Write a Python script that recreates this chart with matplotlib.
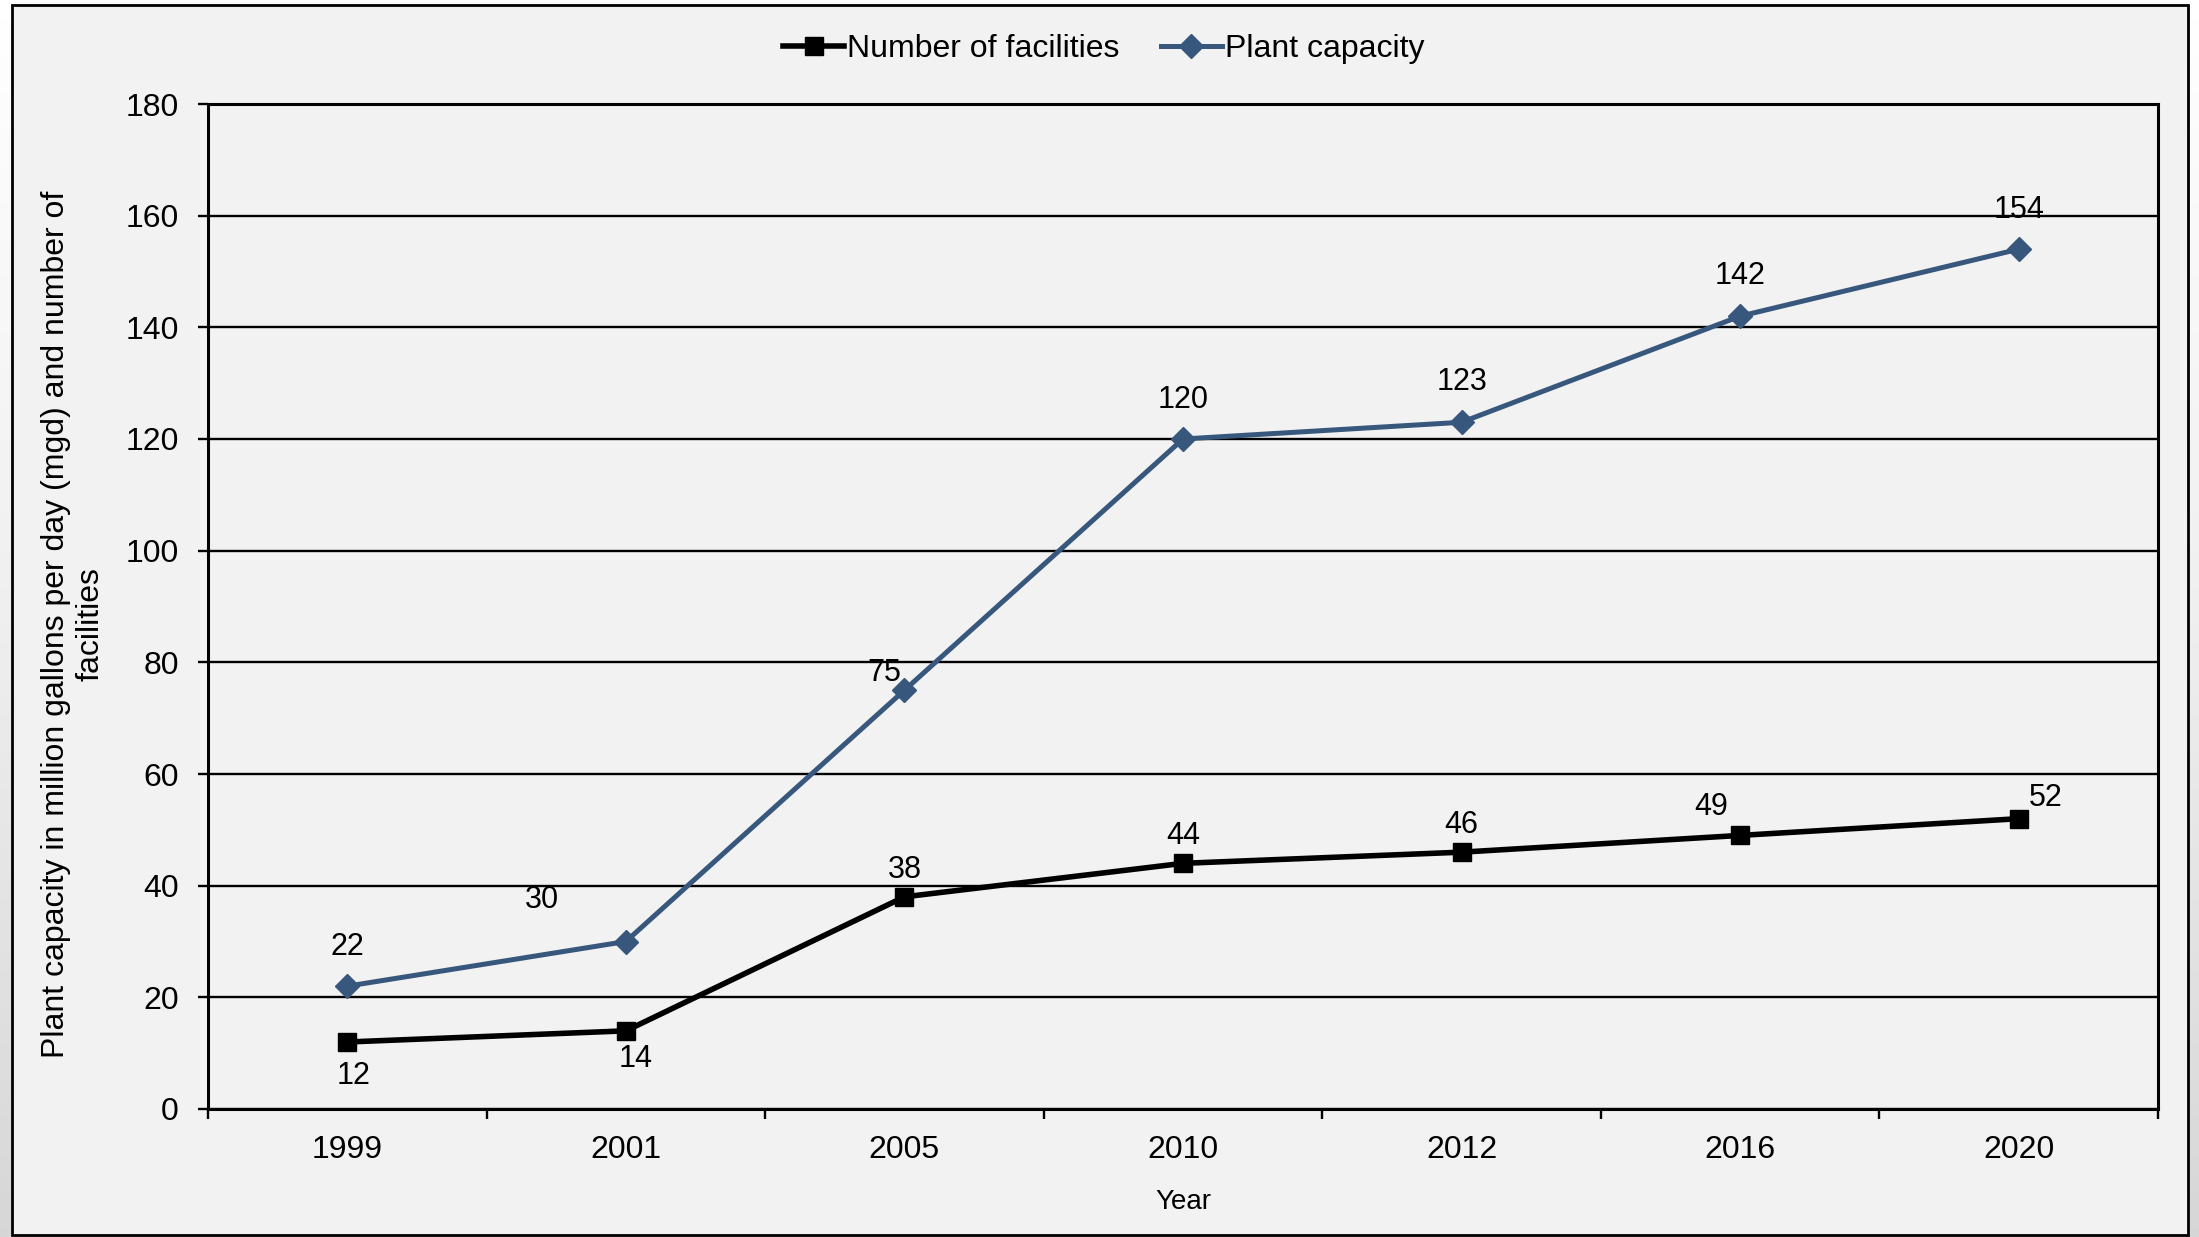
import numpy as np
import matplotlib
matplotlib.use("Agg")
import matplotlib.pyplot as plt
from matplotlib.patches import Rectangle

plt.rcParams['font.family'] = ['Liberation Sans', 'DejaVu Sans']

years = ['1999', '2001', '2005', '2010', '2012', '2016', '2020']
facilities = [12, 14, 38, 44, 46, 49, 52]
capacity = [22, 30, 75, 120, 123, 142, 154]

# label offsets in pixels (dx, dy)
fac_off = [(6, -34), (10, -28), (0, 27), (0, 27), (0, 27), (-29, 28), (27, 21)]
cap_off = [(0, 39), (-84, 41), (-20, 17), (0, 39), (0, 40), (0, 40), (0, 39)]

blue = '#38577c'
bg = '#f2f2f2'

fig = plt.figure(figsize=(21.99, 12.37), dpi=100)

# grey gradient behind the frame
gax = fig.add_axes([0, 0, 1, 1], zorder=-10)
grad = np.linspace(1.0, 0.0, 256).reshape(-1, 1)
gax.imshow(grad, aspect='auto', cmap='Greys_r', vmin=-2.8, vmax=1.0,
           extent=[0, 1, 0, 1])
gax.axis('off')

fig.patches.append(Rectangle((12 / 2199, 1 - 1235 / 1237), (2188 - 12) / 2199,
                             (1235 - 5) / 1237, transform=fig.transFigure,
                             facecolor=bg, edgecolor='black', lw=2, zorder=-5))

ax = fig.add_axes([208 / 2199, 1 - 1109 / 1237, (2158 - 208) / 2199, (1109 - 104) / 1237])
ax.set_facecolor(bg)
x = np.arange(len(years))

ax.plot(x, facilities, color='black', lw=4.0, marker='s', markersize=13,
        label='Number of facilities', zorder=3)
ax.plot(x, capacity, color=blue, lw=3.6, marker='D', markersize=12,
        label='Plant capacity', zorder=3)

for i in range(len(x)):
    dx, dy = fac_off[i]
    ax.annotate(str(facilities[i]), (x[i], facilities[i]), xytext=(dx * 0.72, dy * 0.72),
                textcoords='offset points', ha='center', va='center', fontsize=22)
    dx, dy = cap_off[i]
    ax.annotate(str(capacity[i]), (x[i], capacity[i]), xytext=(dx * 0.72, dy * 0.72),
                textcoords='offset points', ha='center', va='center', fontsize=22)

ax.set_xlim(-0.5, len(years) - 0.5)
ax.set_ylim(0, 180)
ax.set_yticks(np.arange(0, 181, 20))
ax.yaxis.grid(True, color='black', lw=1.7)
ax.set_axisbelow(True)

ax.set_xticks(np.arange(-0.5, len(years), 1))
ax.set_xticklabels([])
ax.set_xticks(x, minor=True)
ax.set_xticklabels(years, minor=True)
ax.tick_params(axis='x', which='major', length=7, width=1.7, direction='out')
ax.tick_params(axis='x', which='minor', length=0, pad=19, labelsize=23)
ax.tick_params(axis='y', length=7, width=1.7, direction='out', pad=14, labelsize=23)

for s in ax.spines.values():
    s.set_linewidth(2.2)
    s.set_color('black')

ax.set_xlabel('Year', fontsize=20, labelpad=17)
fig.text(0.0335, 1 - 624 / 1237,
         'Plant capacity in million gallons per day (mgd) and number of\nfacilities',
         rotation=90, ha='center', va='center', multialignment='center',
         fontsize=23, linespacing=1.2)

fig.legend(loc='center', bbox_to_anchor=(0.502, 1 - 49 / 1237), ncol=2, frameon=False,
           fontsize=23, handlelength=1.9, handletextpad=0.1, columnspacing=1.3)

fig.savefig('out.png', dpi=100, facecolor=fig.get_facecolor())
